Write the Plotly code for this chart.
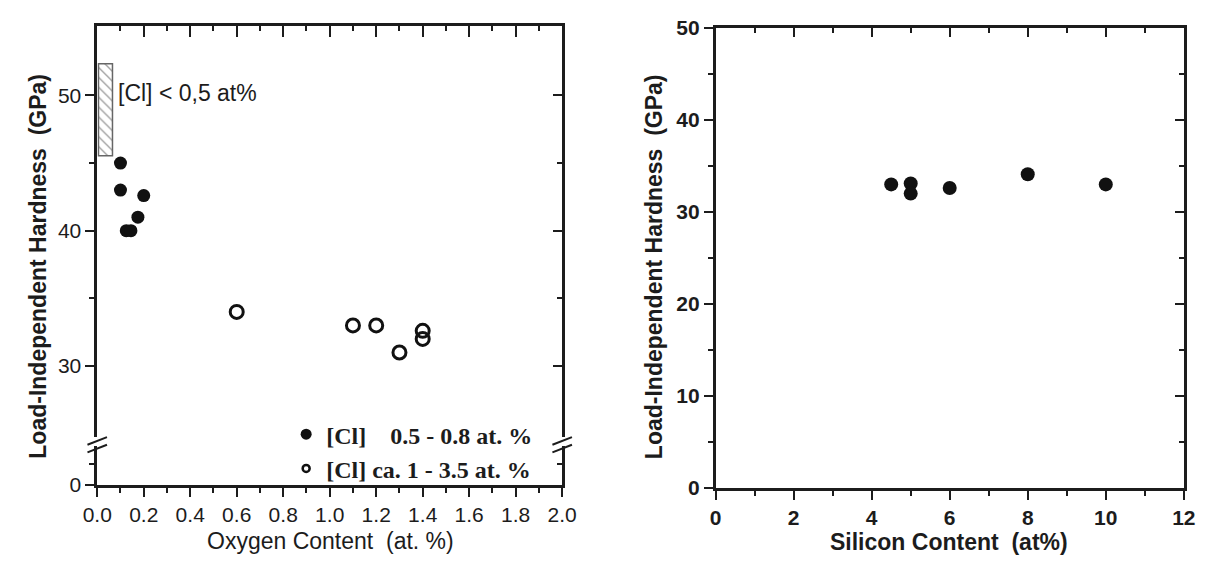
import plotly.graph_objects as go

# ---------------- data ----------------
# Left panel: hardness vs oxygen content
oxy_lowcl_x = [0.10, 0.10, 0.20, 0.175, 0.125, 0.145]
oxy_lowcl_y = [45.0, 43.0, 42.6, 41.0, 40.0, 40.0]
oxy_highcl_x = [0.6, 1.1, 1.2, 1.3, 1.4, 1.4]
oxy_highcl_y = [34.0, 33.0, 33.0, 31.0, 32.6, 32.0]
clfree_oxygen = [0.008, 0.068]      # x extent of hatched box
clfree_hardness = [45.5, 52.3]      # y extent of hatched box

# Right panel: hardness vs silicon content
si_x = [4.5, 5.0, 5.0, 6.0, 8.0, 10.0]
si_y = [33.0, 33.1, 32.0, 32.6, 34.1, 33.0]

legend_names = ["[Cl]\u00a0\u00a0\u00a0\u00a00.5 - 0.8 at. %", "[Cl] ca. 1 - 3.5 at. %"]
left_x_ticks = [0.0, 0.2, 0.4, 0.6, 0.8, 1.0, 1.2, 1.4, 1.6, 1.8, 2.0]
left_y_ticks_upper = [30, 40, 50]
left_y_minor_upper = [35, 45]
left_y_ticks_lower = [0]
left_y_minor_lower = [5]

# ---------------- geometry (pixels -> paper) ----------------
W, H = 1219, 568
def px(x): return x / W
def py(y): return 1 - y / H

INK = "#1c1c1c"
SANS = "Liberation Sans, Arial, sans-serif"
SERIF = "Liberation Serif, Times New Roman, serif"

L_X = [px(84.3), px(561)]
L_YU = [py(443), py(15)]
L_YL = [py(493), py(452)]
R_X = [px(718.3), px(1198.3)]
R_Y = [py(496), py(16.7)]

fig = go.Figure()

# placeholder traces so every (overlay) axis pair becomes a drawn subplot
for xa, ya in [("x", "y2"), ("x3", "y"), ("x", "y3"), ("x", "y4"),
               ("x4", "y5"), ("x2", "y6")]:
    fig.add_trace(go.Scatter(x=[None], y=[None], xaxis=xa, yaxis=ya,
                             mode="markers", showlegend=False, hoverinfo="skip"))

# hatched box ([Cl] < 0,5 at%)
fig.add_trace(go.Bar(
    x=[(clfree_oxygen[0] + clfree_oxygen[1]) / 2],
    y=[clfree_hardness[1] - clfree_hardness[0]],
    base=[clfree_hardness[0]],
    width=[clfree_oxygen[1] - clfree_oxygen[0]],
    marker=dict(color="white", line=dict(color="#666", width=1.5),
                pattern=dict(shape="\\", fgcolor="#444", bgcolor="white",
                             size=7, solidity=0.2)),
    xaxis="x", yaxis="y", showlegend=False, hoverinfo="skip"))

fig.add_trace(go.Scatter(
    x=oxy_lowcl_x, y=oxy_lowcl_y, mode="markers", showlegend=False,
    marker=dict(symbol="circle", size=13, color="#111"),
    xaxis="x", yaxis="y"))
fig.add_trace(go.Scatter(
    x=oxy_highcl_x, y=oxy_highcl_y, mode="markers", showlegend=False,
    marker=dict(symbol="circle-open", size=13, color="#111",
                line=dict(width=3, color="#111")),
    xaxis="x", yaxis="y"))

# legend entries (legend-only symbols, smaller like the original key)
fig.add_trace(go.Scatter(
    x=[None], y=[None], mode="markers", name=legend_names[0],
    marker=dict(symbol="circle", size=11, color="#111"),
    xaxis="x", yaxis="y"))
fig.add_trace(go.Scatter(
    x=[None], y=[None], mode="markers", name=legend_names[1],
    marker=dict(symbol="circle-open", size=7, color="#111",
                line=dict(width=2.5, color="#111")),
    xaxis="x", yaxis="y"))

fig.add_trace(go.Scatter(
    x=si_x, y=si_y, mode="markers", showlegend=False,
    marker=dict(symbol="circle", size=14, color="#111"),
    xaxis="x2", yaxis="y5"))

common = dict(showgrid=False, zeroline=False, showline=True, linewidth=2.5,
              linecolor=INK, tickcolor=INK, tickwidth=2, color=INK)

tf_left = dict(family=SANS, size=21, color=INK)
tf_right = dict(family=SANS, size=21, color=INK, weight="bold")

fig.update_layout(
    width=W, height=H, margin=dict(l=0, r=0, t=0, b=0),
    paper_bgcolor="white", plot_bgcolor="white",
    bargap=0,
    # ----- left panel -----
    xaxis=dict(domain=L_X, anchor="y2", range=[0, 2], tickvals=left_x_ticks,
               tickformat=".1f", ticks="outside", ticklen=9,
               minor=dict(dtick=0.1, tick0=0, ticks="outside", ticklen=5,
                          tickwidth=2, tickcolor=INK),
               tickfont=tf_left, **common),
    yaxis=dict(domain=L_YU, anchor="x", range=[24.75, 55.1],
               tickvals=left_y_ticks_upper, ticks="outside", ticklen=9,
               minor=dict(tickvals=left_y_minor_upper, ticks="outside",
                          ticklen=5, tickwidth=2, tickcolor=INK),
               tickfont=tf_left, **common),
    yaxis2=dict(domain=L_YL, anchor="x", range=[0, 9.4],
                tickvals=left_y_ticks_lower, ticks="outside", ticklen=9,
                minor=dict(tickvals=left_y_minor_lower, ticks="outside",
                           ticklen=5, tickwidth=2, tickcolor=INK),
                tickfont=tf_left, **common),
    xaxis3=dict(overlaying="x", anchor="y", side="top", range=[0, 2],
                tickvals=left_x_ticks, ticks="inside", ticklen=11,
                showticklabels=False,
                minor=dict(dtick=0.1, tick0=0, ticks="inside", ticklen=5,
                           tickwidth=2, tickcolor=INK), **common),
    yaxis3=dict(overlaying="y", anchor="x", side="right", range=[24.75, 55.1],
                tickvals=left_y_ticks_upper, ticks="inside", ticklen=9,
                showticklabels=False,
                minor=dict(tickvals=left_y_minor_upper, ticks="inside",
                           ticklen=5, tickwidth=2, tickcolor=INK), **common),
    yaxis4=dict(overlaying="y2", anchor="x", side="right", range=[0, 9.4],
                tickvals=left_y_ticks_lower, ticks="inside", ticklen=9,
                showticklabels=False,
                minor=dict(tickvals=left_y_minor_lower, ticks="inside",
                           ticklen=5, tickwidth=2, tickcolor=INK), **common),
    # ----- right panel -----
    xaxis2=dict(domain=R_X, anchor="y5", range=[0, 12], dtick=2, tick0=0,
                ticks="outside", ticklen=9,
                minor=dict(dtick=1, tick0=0, ticks="outside", ticklen=5,
                           tickwidth=2, tickcolor=INK),
                tickfont=tf_right, **common),
    yaxis5=dict(domain=R_Y, anchor="x2", range=[0, 50], dtick=10, tick0=0,
                ticks="outside", ticklen=9,
                minor=dict(dtick=5, tick0=0, ticks="outside", ticklen=5,
                           tickwidth=2, tickcolor=INK),
                tickfont=tf_right, **common),
    xaxis4=dict(overlaying="x2", anchor="y5", side="top", range=[0, 12],
                dtick=2, tick0=0, ticks="inside", ticklen=9,
                showticklabels=False,
                minor=dict(dtick=1, tick0=0, ticks="inside", ticklen=5,
                           tickwidth=2, tickcolor=INK), **common),
    yaxis6=dict(overlaying="y5", anchor="x2", side="right", range=[0, 50],
                dtick=10, tick0=0, ticks="inside", ticklen=9,
                showticklabels=False,
                minor=dict(dtick=5, tick0=0, ticks="inside", ticklen=5,
                           tickwidth=2, tickcolor=INK), **common),
    legend=dict(x=px(278), y=py(417), xanchor="left", yanchor="top",
                bgcolor="rgba(0,0,0,0)", borderwidth=0,
                font=dict(family=SERIF, size=24, color=INK, weight="bold"),
                traceorder="normal"),
)

# axis titles and annotation
ann = [
    dict(text="<b>Load-Independent Hardness\u00a0\u00a0(GPa)</b>", x=px(24), y=py(265),
         textangle=-90, font=dict(family=SANS, size=23, color=INK)),
    dict(text="Oxygen Content\u00a0\u00a0(at. %)", x=px(323), y=py(551),
         font=dict(family=SANS, size=23, color=INK)),
    dict(text="<b>Load-Independent Hardness\u00a0\u00a0(GPa)</b>", x=px(655), y=py(265),
         textangle=-90, font=dict(family=SANS, size=23, color=INK)),
    dict(text="<b>Silicon Content\u00a0\u00a0(at%)</b>", x=px(958), y=py(552),
         font=dict(family=SANS, size=23, color=INK)),
]
for a in ann:
    fig.add_annotation(xref="paper", yref="paper", showarrow=False,
                       xanchor="center", yanchor="middle", **a)
fig.add_annotation(xref="x", yref="y", x=clfree_oxygen[1], y=50.2,
                   text="[Cl] < 0,5 at%", showarrow=False, xanchor="left",
                   yanchor="middle", xshift=3,
                   font=dict(family=SANS, size=23, color=INK))

# axis-break marks
for xc in (84.3, 561):
    for yo in (0, 8):
        fig.add_shape(type="line", xref="paper", yref="paper",
                      x0=px(xc - 10), y0=py(451 + yo),
                      x1=px(xc + 10), y1=py(443 + yo),
                      line=dict(color=INK, width=2))

fig.write_html("out.html")
